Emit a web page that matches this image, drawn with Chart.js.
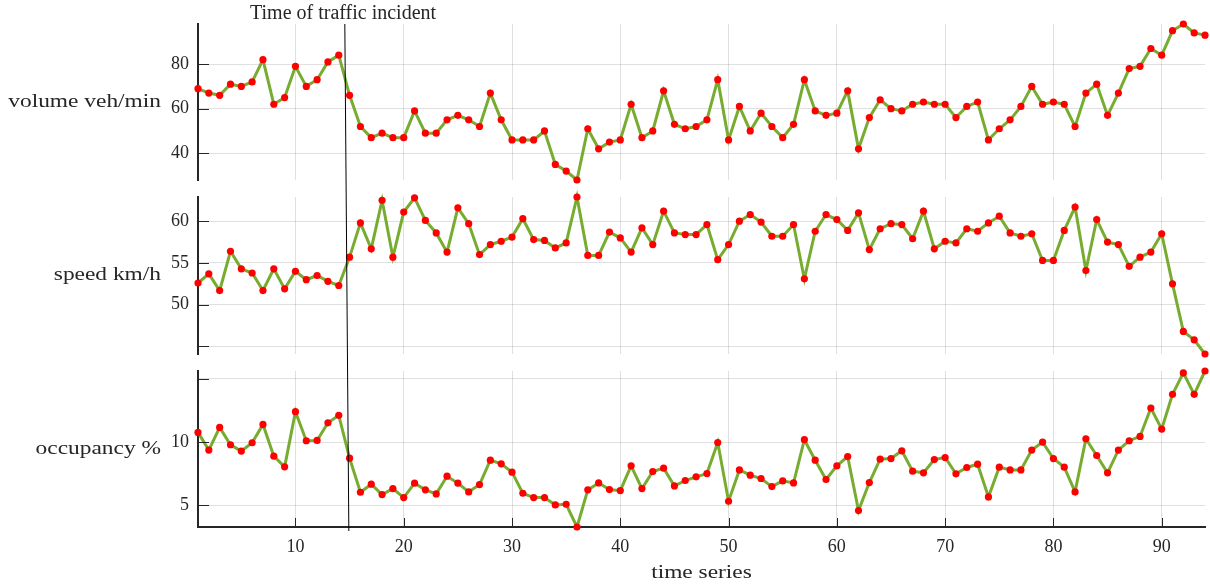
<!DOCTYPE html>
<html>
<head>
<meta charset="utf-8">
<title>Traffic incident time series</title>
<script src="https://cdn.jsdelivr.net/npm/chart.js@4.4.1/dist/chart.umd.min.js"></script>
<style>
  html, body { margin: 0; padding: 0; background: #ffffff; }
  #wrap { position: relative; width: 1210px; height: 587px; }
  #wrap canvas { position: absolute; left: 0; top: 0; }
</style>
</head>
<body>
<div id="wrap">
  <canvas id="volumeChart" width="1210" height="587"></canvas>
  <canvas id="speedChart" width="1210" height="587"></canvas>
  <canvas id="occupancyChart" width="1210" height="587"></canvas>
</div>
<script>
// time index 1..94
const timeSteps = Array.from({ length: 94 }, (_, i) => i + 1);

const volume = [
  69, 67, 66, 71, 70, 72, 82, 62, 65, 79, 70, 73, 81, 84,
  66, 52, 47, 49, 47, 47, 59, 49, 49, 55, 57, 55, 52, 67, 55, 46,
  46, 46, 50, 35, 32, 28, 51, 42, 45,
  46, 62, 47, 50, 68, 53, 51, 52, 55, 73,
  46, 61, 50, 58, 52, 47, 53, 73, 59, 57,
  58, 68, 42, 56, 64, 60, 59, 62, 63, 62,
  62, 56, 61, 63, 46, 51, 55, 61, 70, 62,
  63, 62, 52, 67, 71, 57, 67, 78, 79, 87,
  84, 95, 98, 94, 93
];

const speed = [
  52.6, 53.7, 51.7, 56.4, 54.3, 53.8, 51.7, 54.3, 51.9, 54.0, 53.0, 53.5, 52.8, 52.3,
  55.7, 59.8, 56.7, 62.5, 55.7, 61.1, 62.8, 60.1, 58.6, 56.3, 61.6, 59.7, 56.0, 57.2,
  57.6, 58.1, 60.3, 57.8, 57.7, 56.8, 57.4, 62.9, 55.9, 55.9, 58.7,
  58.0, 56.3, 59.2, 57.2, 61.2, 58.6, 58.4, 58.4, 59.6, 55.4,
  57.2, 60.0, 60.8, 59.9, 58.2, 58.2, 59.6, 53.1, 58.8, 60.8,
  60.2, 58.9, 61.0, 56.6, 59.1, 59.7, 59.6, 57.9, 61.2, 56.7,
  57.6, 57.4, 59.1, 58.8, 59.8, 60.6, 58.6, 58.2, 58.5, 55.3,
  55.3, 58.9, 61.7, 54.1, 60.2, 57.5, 57.2, 54.6, 55.7, 56.3,
  58.5, 52.5, 46.8, 45.8, 44.1
];

const occupancy = [
  10.77, 9.37, 11.16, 9.79, 9.29, 9.95, 11.40, 8.89, 8.04, 12.41, 10.11, 10.13, 11.53, 12.12,
  8.73, 6.03, 6.67, 5.85, 6.32, 5.61, 6.75, 6.22, 5.90, 7.30, 6.75, 6.06, 6.64, 8.57,
  8.28, 7.62, 5.95, 5.61, 5.61, 5.03, 5.08, 3.28, 6.22, 6.77, 6.24,
  6.16, 8.12, 6.32, 7.67, 7.94, 6.53, 6.96, 7.25, 7.51, 9.97,
  5.32, 7.80, 7.38, 7.12, 6.48, 6.93, 6.77, 10.19, 8.57, 7.04,
  8.12, 8.86, 4.58, 6.80, 8.65, 8.70, 9.31, 7.70, 7.57, 8.62,
  8.78, 7.49, 7.99, 8.25, 5.66, 8.02, 7.80, 7.80, 9.37, 10.00,
  8.70, 8.02, 6.06, 10.26, 8.94, 7.57, 9.37, 10.11, 10.45, 12.70,
  11.03, 13.78, 15.48, 13.78, 15.63
];

const xTicks = [10, 20, 30, 40, 50, 60, 70, 80, 90];
const volumeTicks = [40, 60, 80];
const speedTicks = [45, 50, 55, 60];
const occupancyTicks = [5, 10, 15];

// incident marker (drawn slightly slanted like the original figure: top, bottom)
const incidentLineX = [14.56, 14.93];
const incidentLabel = "Time of traffic incident";

const axisColor = "#262626";
const gridColor = "rgba(0,0,0,0.12)";
const lineColor = "#77ac30";
const dotColor = "#ff0000";
const serif = '"Liberation Serif", "Times New Roman", serif';

const plotLeft = 198;
const plotRight = 1205;
const yAxisWidth = 40;

const panels = [
  { id: "volumeChart", label: "volume veh/min", values: volume, ticks: volumeTicks, hideLabels: [], top: 24, bottom: 180, last: false },
  { id: "speedChart", label: "speed km/h", values: speed, ticks: speedTicks, hideLabels: [45], top: 197, bottom: 354, last: false },
  { id: "occupancyChart", label: "occupancy %", values: occupancy, ticks: occupancyTicks, hideLabels: [15], top: 371, bottom: 527, last: true }
];

// stretched serif text, the original figure was widened
function drawWideText(ctx, text, x, y, size, align, stretch) {
  ctx.save();
  ctx.font = size + "px " + serif;
  ctx.fillStyle = axisColor;
  ctx.textAlign = align;
  ctx.textBaseline = "middle";
  ctx.translate(x, y);
  ctx.scale(stretch, 1);
  ctx.fillText(text, 0, 0);
  ctx.restore();
}

function makeDecor(panel) {
  return {
    id: "decor_" + panel.id,
    afterDraw(chart) {
      const ctx = chart.ctx;
      const area = chart.chartArea;
      const xs = chart.scales.x;
      const ys = chart.scales.y;

      // inward tick marks
      ctx.save();
      ctx.strokeStyle = axisColor;
      ctx.lineWidth = 1;
      ctx.beginPath();
      panel.ticks.forEach(v => {
        const y = Math.round(ys.getPixelForValue(v)) + 0.5;
        ctx.moveTo(area.left, y);
        ctx.lineTo(area.left + 11, y);
      });
      if (panel.last) {
        xTicks.forEach(v => {
          const x = Math.round(xs.getPixelForValue(v)) + 0.5;
          ctx.moveTo(x, area.bottom);
          ctx.lineTo(x, area.bottom - 9);
        });
      }
      ctx.stroke();
      ctx.restore();

      drawWideText(ctx, panel.label, 161, (area.top + area.bottom) / 2, 18, "right", 1.3);

      if (panel.last) {
        drawWideText(ctx, "time series", (area.left + area.right) / 2, 573, 18, "center", 1.3);

        // incident line across all three panels
        ctx.save();
        ctx.strokeStyle = "#000000";
        ctx.lineWidth = 1;
        ctx.beginPath();
        ctx.moveTo(xs.getPixelForValue(incidentLineX[0]), 24);
        ctx.lineTo(xs.getPixelForValue(incidentLineX[1]), 531);
        ctx.stroke();
        ctx.font = "20px " + serif;
        ctx.fillStyle = axisColor;
        ctx.textAlign = "left";
        ctx.textBaseline = "middle";
        ctx.fillText(incidentLabel, 250, 14);
        ctx.restore();
      }
    }
  };
}

panels.forEach(panel => {
  const ctx = document.getElementById(panel.id).getContext("2d");
  const points = panel.values.map((v, i) => ({ x: timeSteps[i], y: v }));
  const xAxisHeight = panel.last ? 60 : 0;

  new Chart(ctx, {
    type: "line",
    data: {
      datasets: [
        {
          data: points,
          borderColor: lineColor,
          borderWidth: 3,
          pointRadius: 3.6,
          pointBackgroundColor: dotColor,
          pointBorderColor: dotColor,
          pointBorderWidth: 0,
          tension: 0,
          clip: false
        }
      ]
    },
    options: {
      responsive: false,
      animation: false,
      events: [],
      layout: {
        padding: {
          left: plotLeft - yAxisWidth,
          right: 1210 - plotRight,
          top: panel.top,
          bottom: 587 - panel.bottom - xAxisHeight
        }
      },
      plugins: {
        legend: { display: false },
        tooltip: { enabled: false }
      },
      scales: {
        x: {
          type: "linear",
          min: timeSteps[0],
          max: timeSteps[timeSteps.length - 1],
          afterBuildTicks: s => { s.ticks = xTicks.map(v => ({ value: v })); },
          afterFit: s => { s.height = xAxisHeight; },
          grid: { color: gridColor, lineWidth: 1, drawTicks: false },
          border: { display: panel.last, color: axisColor, width: 2 },
          ticks: {
            display: panel.last,
            padding: 9,
            color: axisColor,
            font: { family: serif, size: 18 }
          }
        },
        y: {
          min: Math.min(...panel.values),
          max: Math.max(...panel.values),
          afterBuildTicks: s => { s.ticks = panel.ticks.map(v => ({ value: v })); },
          afterFit: s => { s.width = yAxisWidth; },
          grid: { color: gridColor, lineWidth: 1, drawTicks: false },
          border: { display: true, color: axisColor, width: 2 },
          ticks: {
            padding: 9,
            color: axisColor,
            font: { family: serif, size: 18 },
            callback: v => (panel.hideLabels.includes(v) ? "" : v)
          }
        }
      }
    },
    plugins: [makeDecor(panel)]
  });
});
</script>
</body>
</html>
